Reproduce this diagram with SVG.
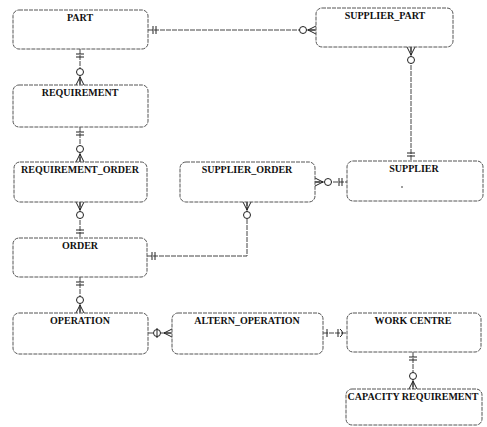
<svg xmlns="http://www.w3.org/2000/svg" xmlns:xlink="http://www.w3.org/1999/xlink" width="487" height="427" viewBox="0 0 487 427">
<style>
.box{fill:#fff;stroke:#555;stroke-width:1;stroke-dasharray:4 1}
.lbl{font-family:"Liberation Serif","Times New Roman",serif;font-weight:bold;font-size:10px;fill:#111;text-anchor:middle}
.ln{fill:none;stroke:#444;stroke-width:1;stroke-dasharray:5 1}
.sym{fill:none;stroke:#222;stroke-width:1}
</style>
<defs>
<g id="many" class="sym"><path d="M0,-8 L-4,0 M0,-8 L0,0 M0,-8 L4,0"/><circle cx="0" cy="-13" r="3.5" fill="#fff"/></g>
<g id="one" class="sym"><path d="M-4,-5 H4 M-4,-8 H4"/></g>
</defs>
<rect width="487" height="427" fill="#fff"/>
<g id="connectors">
<path class="ln" d="M148,30 H316"/>
<use xlink:href="#one" transform="translate(148,30) rotate(90)"/>
<use xlink:href="#many" transform="translate(316,30) rotate(-90)"/>
<path class="ln" d="M80,49 V85"/>
<use xlink:href="#one" transform="translate(80,49) rotate(180)"/>
<use xlink:href="#many" transform="translate(80,85)"/>
<path class="ln" d="M80,127 V162"/>
<use xlink:href="#one" transform="translate(80,127) rotate(180)"/>
<use xlink:href="#many" transform="translate(80,162)"/>
<path class="ln" d="M80,202 V238"/>
<use xlink:href="#many" transform="translate(80,202) rotate(180)"/>
<use xlink:href="#one" transform="translate(80,238)"/>
<path class="ln" d="M80,277 V313"/>
<use xlink:href="#one" transform="translate(80,277) rotate(180)"/>
<use xlink:href="#many" transform="translate(80,313)"/>
<path class="ln" d="M147,256 H247 V202"/>
<use xlink:href="#one" transform="translate(147,256) rotate(90)"/>
<use xlink:href="#many" transform="translate(247,202) rotate(180)"/>
<path class="ln" d="M315,182 H347"/>
<use xlink:href="#many" transform="translate(315,182) rotate(90)"/>
<use xlink:href="#one" transform="translate(347,182) rotate(-90)"/>
<path class="ln" d="M411,47 V161"/>
<use xlink:href="#many" transform="translate(411,47) rotate(180)"/>
<use xlink:href="#one" transform="translate(411,161)"/>
<path class="ln" d="M148,333 H172"/>
<g class="sym"><circle cx="157" cy="333" r="3.5" fill="#fff"/><path d="M157,328 V338 M164,333 L172,329 M164,333 L172,333 M164,333 L172,337"/></g>
<path class="ln" d="M323,333 H347"/>
<g class="sym"><path d="M327,329 V337 M338,329 V337 M340,329 Q345,333 340,337"/></g>
<path class="ln" d="M413,352 V389"/>
<use xlink:href="#one" transform="translate(413,352) rotate(180)"/>
<use xlink:href="#many" transform="translate(413,389)"/>
</g>
<g id="part"><rect class="box" x="13" y="10" width="135" height="39" rx="6"/><text class="lbl" x="80" y="21">PART</text></g>
<g id="supplier_part"><rect class="box" x="316" y="8" width="137" height="39" rx="6"/><text class="lbl" x="385" y="19">SUPPLIER_PART</text></g>
<g id="requirement"><rect class="box" x="13" y="85" width="135" height="42" rx="6"/><text class="lbl" x="80" y="96">REQUIREMENT</text></g>
<g id="requirement_order"><rect class="box" x="14" y="162" width="133" height="40" rx="6"/><text class="lbl" x="80" y="173">REQUIREMENT_ORDER</text></g>
<g id="supplier_order"><rect class="box" x="180" y="162" width="135" height="40" rx="6"/><text class="lbl" x="247" y="173">SUPPLIER_ORDER</text></g>
<g id="supplier"><rect class="box" x="347" y="161" width="136" height="40" rx="6"/><text class="lbl" x="414" y="172">SUPPLIER</text><circle cx="402" cy="187" r="0.8" fill="#222"/></g>
<g id="order"><rect class="box" x="13" y="238" width="134" height="39" rx="6"/><text class="lbl" x="80" y="249">ORDER</text></g>
<g id="operation"><rect class="box" x="13" y="313" width="135" height="41" rx="6"/><text class="lbl" x="80" y="324">OPERATION</text></g>
<g id="altern_operation"><rect class="box" x="172" y="313" width="151" height="41" rx="6"/><text class="lbl" x="247" y="324">ALTERN_OPERATION</text></g>
<g id="work_centre"><rect class="box" x="347" y="313" width="134" height="39" rx="6"/><text class="lbl" x="413" y="324">WORK CENTRE</text></g>
<g id="capacity_requirement"><rect class="box" x="346" y="389" width="136" height="36" rx="6"/><text class="lbl" x="413" y="400">CAPACITY REQUIREMENT</text></g>
</svg>
